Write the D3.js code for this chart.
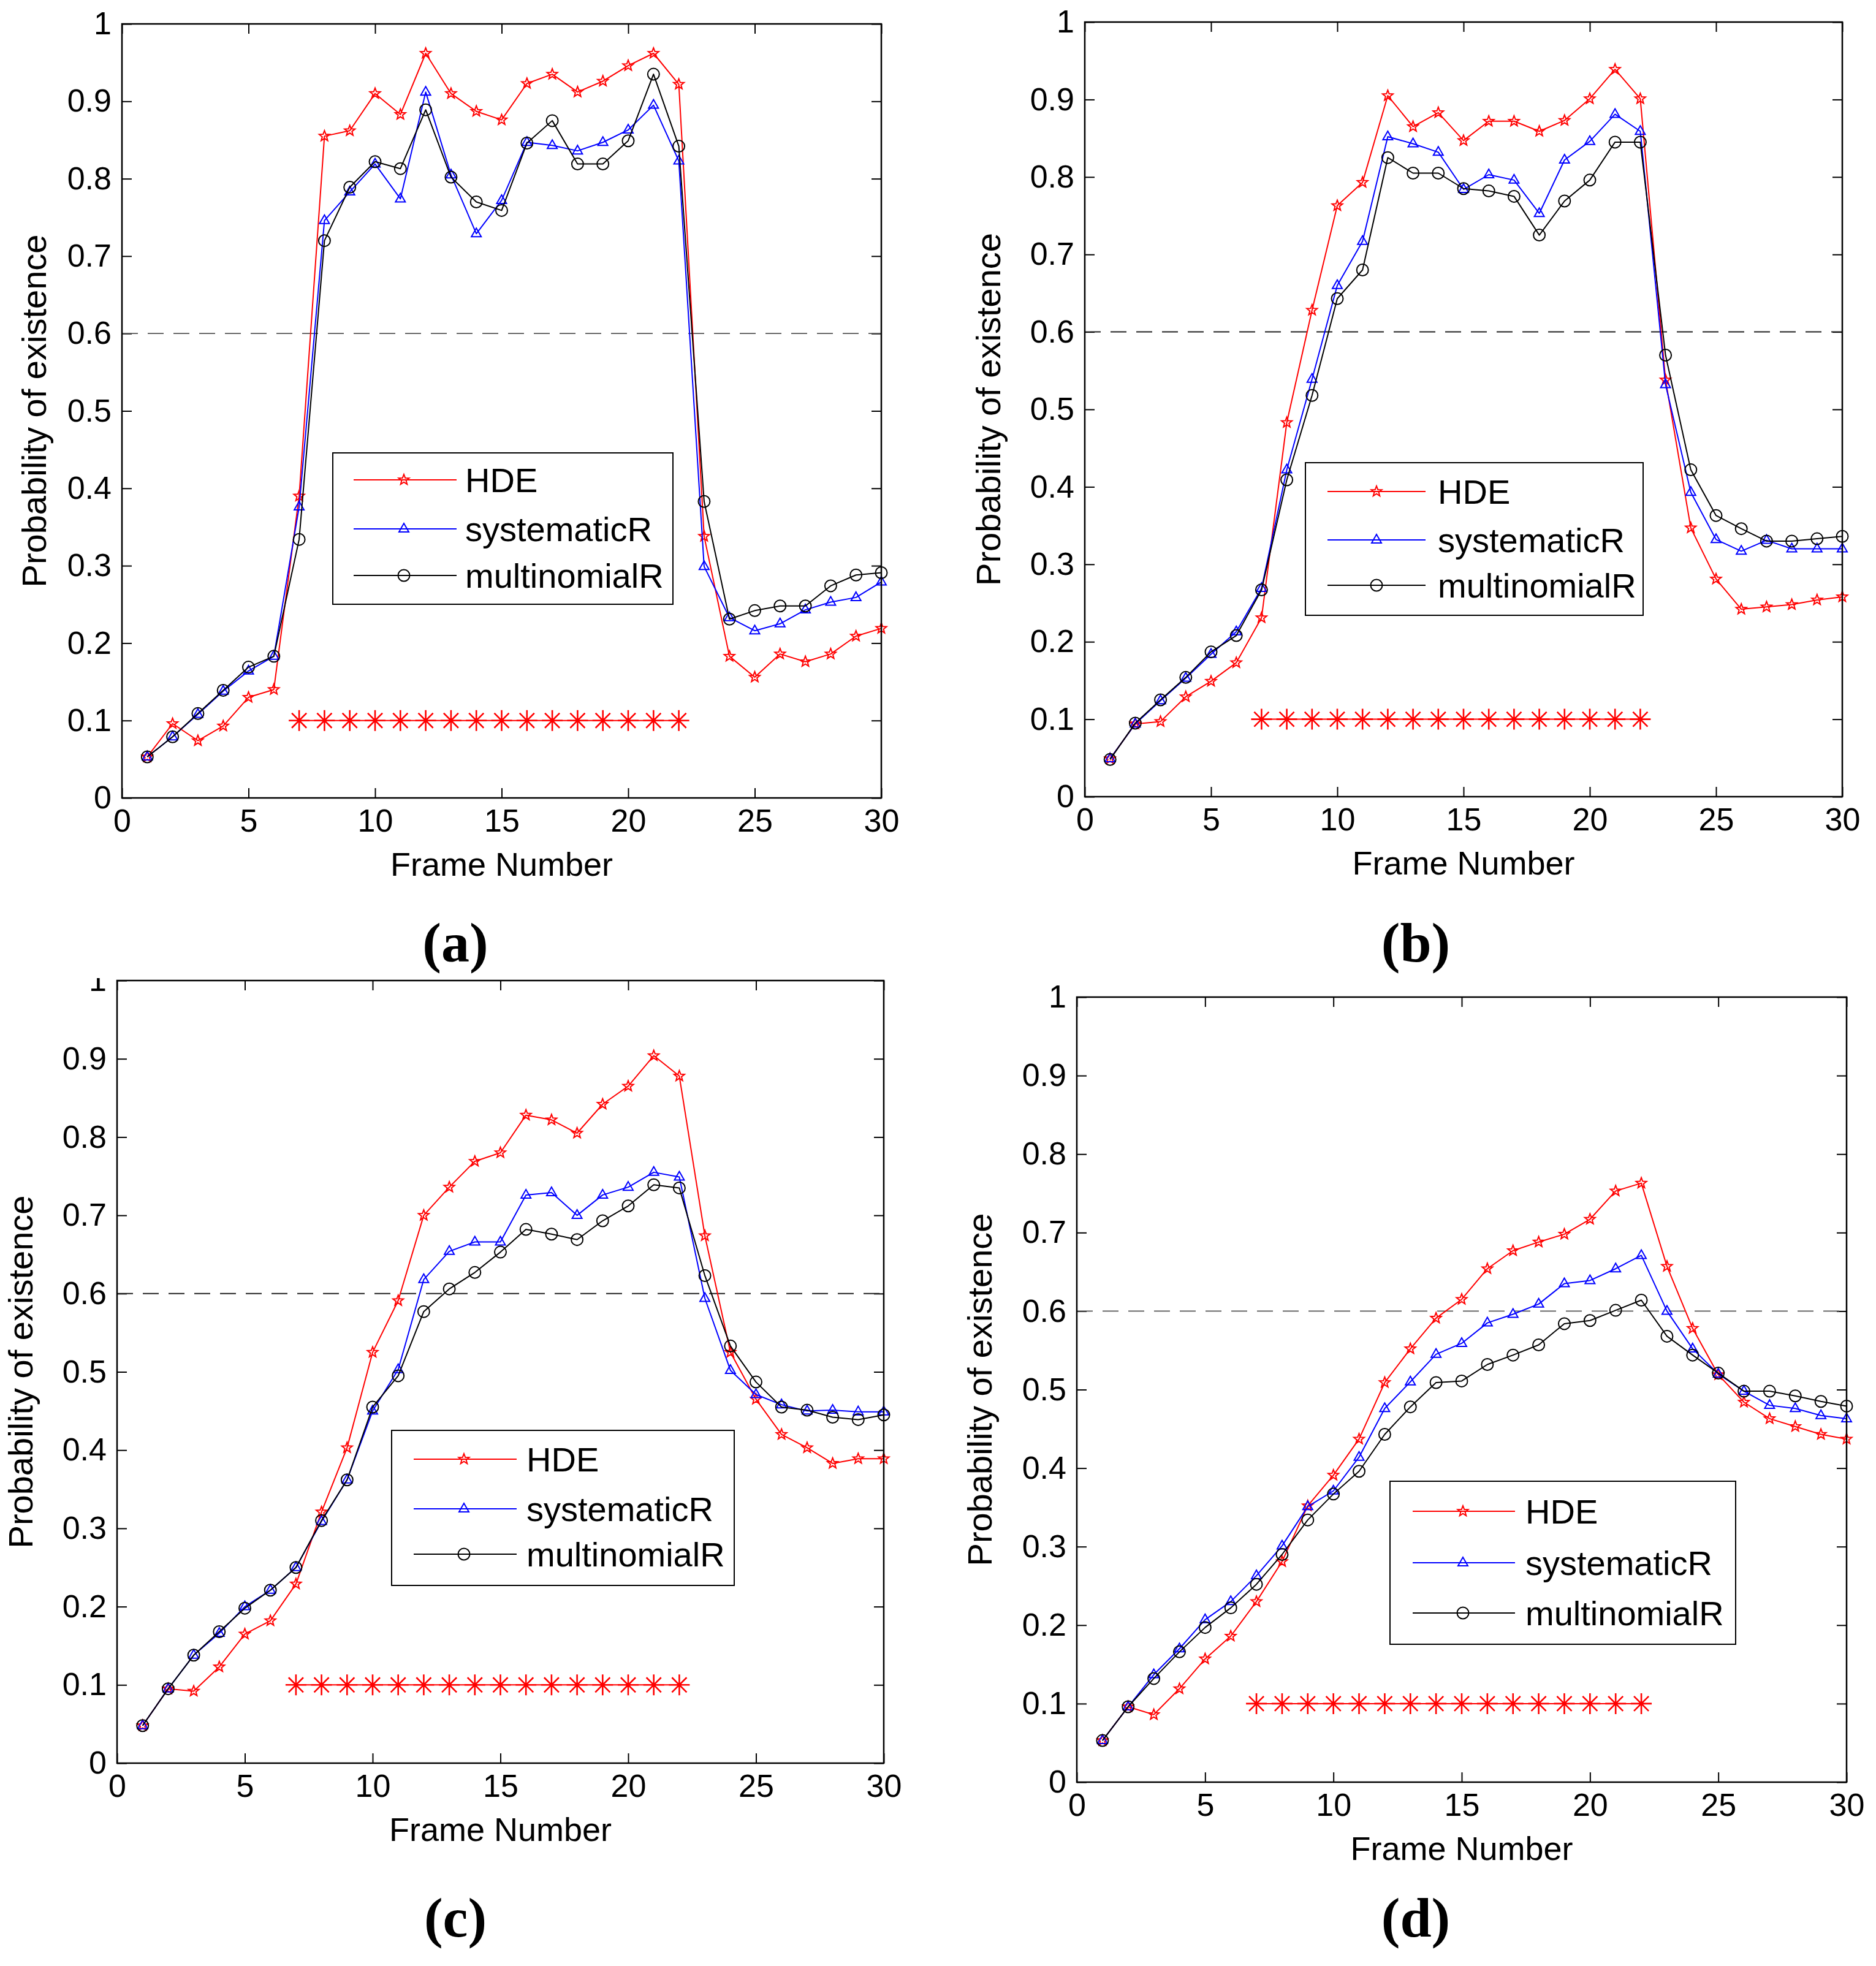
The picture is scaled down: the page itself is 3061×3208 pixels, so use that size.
<!DOCTYPE html>
<html><head><meta charset="utf-8">
<script src="https://cdn.jsdelivr.net/npm/d3@7"></script>
<style>body{margin:0;background:#fff}</style>
</head><body>
<svg id="chart" width="3061" height="3208" xmlns="http://www.w3.org/2000/svg"></svg>
<script>
// ---------------- data ----------------
const frames = [1,2,3,4,5,6,7,8,9,10,11,12,13,14,15,16,17,18,19,20,21,22,23,24,25,26,27,28,29,30];

const hdeA = [0.053,0.096,0.074,0.093,0.130,0.140,0.390,0.855,0.862,0.910,0.883,0.962,0.910,0.887,0.876,0.923,0.935,0.912,0.926,0.946,0.962,0.922,0.338,0.183,0.156,0.186,0.176,0.186,0.209,0.219];
const sysA = [0.053,0.079,0.108,0.138,0.164,0.183,0.376,0.746,0.783,0.819,0.774,0.912,0.805,0.729,0.772,0.847,0.843,0.836,0.847,0.863,0.895,0.823,0.299,0.233,0.216,0.225,0.243,0.253,0.259,0.279];
const mulA = [0.053,0.079,0.109,0.139,0.169,0.183,0.334,0.720,0.789,0.822,0.813,0.889,0.802,0.770,0.759,0.846,0.875,0.819,0.819,0.849,0.935,0.842,0.383,0.231,0.242,0.248,0.248,0.274,0.288,0.291];

const hdeB = [0.049,0.094,0.097,0.129,0.149,0.173,0.231,0.483,0.628,0.763,0.793,0.905,0.865,0.883,0.847,0.872,0.872,0.859,0.873,0.901,0.939,0.901,0.538,0.347,0.281,0.242,0.245,0.248,0.254,0.258];
const sysB = [0.049,0.094,0.124,0.153,0.184,0.213,0.269,0.422,0.539,0.660,0.717,0.852,0.843,0.832,0.784,0.803,0.796,0.753,0.822,0.846,0.881,0.859,0.532,0.393,0.332,0.317,0.331,0.320,0.320,0.320];
const mulB = [0.048,0.095,0.125,0.154,0.187,0.208,0.267,0.409,0.518,0.643,0.680,0.825,0.805,0.805,0.785,0.782,0.775,0.725,0.769,0.796,0.845,0.845,0.570,0.422,0.363,0.346,0.330,0.330,0.333,0.336];

const hdeC = [0.048,0.095,0.092,0.123,0.165,0.182,0.229,0.321,0.403,0.525,0.591,0.700,0.736,0.769,0.780,0.828,0.822,0.805,0.842,0.865,0.904,0.878,0.674,0.525,0.465,0.420,0.403,0.383,0.389,0.389];
const sysC = [0.048,0.095,0.138,0.166,0.200,0.221,0.250,0.309,0.362,0.450,0.503,0.618,0.654,0.666,0.666,0.726,0.729,0.700,0.726,0.736,0.755,0.749,0.594,0.502,0.471,0.458,0.450,0.451,0.449,0.449];
const mulC = [0.048,0.095,0.138,0.168,0.198,0.221,0.250,0.310,0.362,0.455,0.495,0.577,0.606,0.627,0.653,0.682,0.676,0.669,0.693,0.712,0.739,0.735,0.623,0.533,0.487,0.455,0.451,0.442,0.439,0.445];

const hdeD = [0.053,0.096,0.086,0.119,0.157,0.186,0.230,0.281,0.352,0.391,0.437,0.509,0.552,0.591,0.615,0.654,0.677,0.688,0.698,0.717,0.753,0.763,0.657,0.578,0.519,0.484,0.463,0.453,0.443,0.437];
const sysD = [0.053,0.096,0.137,0.170,0.207,0.230,0.263,0.301,0.351,0.371,0.414,0.476,0.510,0.545,0.559,0.585,0.596,0.609,0.635,0.639,0.654,0.671,0.600,0.552,0.520,0.498,0.480,0.476,0.467,0.463];
const mulD = [0.053,0.096,0.132,0.166,0.197,0.222,0.252,0.290,0.334,0.367,0.396,0.443,0.478,0.509,0.511,0.532,0.544,0.557,0.584,0.588,0.601,0.614,0.568,0.544,0.521,0.498,0.498,0.492,0.485,0.479];

const truthFrames = [7,8,9,10,11,12,13,14,15,16,17,18,19,20,21,22];
const truthLevel = 0.1;
const threshold = 0.6;

const xTicks = [0,5,10,15,20,25,30];
const yTicks = [0,0.1,0.2,0.3,0.4,0.5,0.6,0.7,0.8,0.9,1];
const yTickLabels = ["0","0.1","0.2","0.3","0.4","0.5","0.6","0.7","0.8","0.9","1"];
const seriesNames = ["HDE","systematicR","multinomialR"];
const seriesColors = ["#ff0000","#0000ff","#000000"];
const panelLabels = ["(a)","(b)","(c)","(d)"];
const xLabel = "Frame Number";
const yLabel = "Probability of existence";

// ---------------- layout ----------------
const panels = [
  {L:199,R:1438,T:39,B:1302, series:[hdeA,sysA,mulA], ylabX:55, lab:{x:743,y:1540},
   leg:{x:543,y:739,w:555,h:247,l0:577,l1:745,mx:659,tx:759,rows:[783,863,939]}, dashC:"#555", dashW:1.8},
  {L:1770,R:3006,T:36,B:1300, series:[hdeB,sysB,mulB], ylabX:1612, lab:{x:2310,y:1540},
   leg:{x:2130,y:755,w:551,h:249,l0:2166,l1:2326,mx:2246,tx:2346,rows:[802,881,955]}, dashC:"#222", dashW:2},
  {L:191,R:1442,T:1600,B:2877, series:[hdeC,sysC,mulC], ylabX:33, lab:{x:743,y:3131},
   leg:{x:639,y:2334,w:559,h:253,l0:675,l1:843,mx:757,tx:859,rows:[2381,2462,2536]}, dashC:"#222", dashW:2, clipTop:true},
  {L:1757,R:3013,T:1627,B:2908, series:[hdeD,sysD,mulD], ylabX:1598, lab:{x:2310,y:3131},
   leg:{x:2268,y:2417,w:564,h:266,l0:2305,l1:2472,mx:2387,tx:2489,rows:[2466,2550,2632]}, dashC:"#555", dashW:1.8}
];

const FONT = "'Liberation Sans', Arial, Helvetica, sans-serif";
const svg = d3.select("#chart");
svg.append("rect").attr("width",3061).attr("height",3208).attr("fill","#fff");

// marker drawers
function starPath(r){ // pentagram outline
  const pts=[];
  for(let i=0;i<10;i++){
    const ang = -Math.PI/2 + i*Math.PI/5;
    const rr = i%2===0 ? r : r*0.42;
    pts.push([rr*Math.cos(ang), rr*Math.sin(ang)]);
  }
  return "M"+pts.map(p=>p[0].toFixed(2)+","+p[1].toFixed(2)).join("L")+"Z";
}
const markerPaths = [
  starPath(9),
  "M0,-9L8,5L-8,5Z",
  d3.arc()({innerRadius:0,outerRadius:9.5,startAngle:0,endAngle:2*Math.PI})
];
function asteriskPath(r){
  const d=r*Math.SQRT1_2;
  return `M${-r},0L${r},0M0,${-r}L0,${r}M${-d},${-d}L${d},${d}M${-d},${d}L${d},${-d}`;
}

panels.forEach((p,pi)=>{
  const g = svg.append("g");
  const x = d3.scaleLinear().domain([0,30]).range([p.L,p.R]);
  const y = d3.scaleLinear().domain([0,1]).range([p.B,p.T]);

  // axes (ticks inward on all four sides)
  const ax = [
    d3.axisBottom(x).tickValues(xTicks).tickFormat(d3.format("d")).tickSizeInner(-16).tickSizeOuter(0).tickPadding(18),
    d3.axisTop(x).tickValues(xTicks).tickFormat("").tickSizeInner(-16).tickSizeOuter(0),
    d3.axisLeft(y).tickValues(yTicks).tickFormat((d,i)=>yTickLabels[i]).tickSizeInner(-16).tickSizeOuter(0).tickPadding(17),
    d3.axisRight(y).tickValues(yTicks).tickFormat("").tickSizeInner(-16).tickSizeOuter(0)
  ];
  const trans = [`translate(0,${p.B})`,`translate(0,${p.T})`,`translate(${p.L},0)`,`translate(${p.R},0)`];
  ax.forEach((a,i)=>{
    const ag = g.append("g").attr("transform",trans[i]).call(a);
    ag.select(".domain").remove();
    ag.selectAll(".tick line").attr("stroke","#000").attr("stroke-width",2);
    ag.selectAll(".tick text").attr("font-family",FONT).attr("font-size",52).attr("fill","#000");
  });

  // threshold dashed line
  g.append("line").attr("x1",p.L).attr("x2",p.R).attr("y1",y(threshold)).attr("y2",y(threshold))
    .attr("stroke",p.dashC).attr("stroke-width",p.dashW).attr("stroke-dasharray","26,16");

  // series
  const line = d3.line().x((d,i)=>x(frames[i])).y(d=>y(d));
  p.series.forEach((vals,si)=>{
    g.append("path").datum(vals).attr("d",line).attr("fill","none")
      .attr("stroke",seriesColors[si]).attr("stroke-width",2).attr("stroke-linejoin","round");
    g.selectAll(null).data(vals).enter().append("path")
      .attr("transform",(d,i)=>`translate(${x(frames[i])},${y(d)})`)
      .attr("d",markerPaths[si]).attr("fill","none").attr("stroke",seriesColors[si]).attr("stroke-width",2);
  });

  // true-existence asterisks
  const tLine = d3.line().x(d=>x(d)).y(()=>y(truthLevel));
  g.append("path").datum(truthFrames).attr("d",tLine).attr("fill","none").attr("stroke","#ff0000").attr("stroke-width",2);
  g.selectAll(null).data(truthFrames).enter().append("path")
    .attr("transform",d=>`translate(${x(d)},${y(truthLevel)})`)
    .attr("d",asteriskPath(17)).attr("fill","none").attr("stroke","#ff0000").attr("stroke-width",2.6);

  // box
  g.append("rect").attr("x",p.L).attr("y",p.T).attr("width",p.R-p.L).attr("height",p.B-p.T)
    .attr("fill","none").attr("stroke","#000").attr("stroke-width",2.5);

  // legend
  const lg = g.append("g");
  lg.append("rect").attr("x",p.leg.x).attr("y",p.leg.y).attr("width",p.leg.w).attr("height",p.leg.h)
    .attr("fill","#fff").attr("stroke","#000").attr("stroke-width",2);
  seriesNames.forEach((name,si)=>{
    const ry = p.leg.rows[si];
    lg.append("line").attr("x1",p.leg.l0).attr("x2",p.leg.l1).attr("y1",ry).attr("y2",ry)
      .attr("stroke",seriesColors[si]).attr("stroke-width",2);
    lg.append("path").attr("transform",`translate(${p.leg.mx},${ry})`).attr("d",markerPaths[si])
      .attr("fill","none").attr("stroke",seriesColors[si]).attr("stroke-width",2);
    lg.append("text").attr("x",p.leg.tx).attr("y",ry).attr("dy","0.36em")
      .attr("font-family",FONT).attr("font-size",56).attr("fill","#000").text(name);
  });

  // axis labels
  g.append("text").attr("x",(p.L+p.R)/2).attr("y",p.B+108).attr("dy","0.36em").attr("text-anchor","middle")
    .attr("font-family",FONT).attr("font-size",54).attr("fill","#000").text(xLabel);
  g.append("text").attr("transform",`translate(${p.ylabX},${(p.T+p.B)/2}) rotate(-90)`).attr("dy","0.36em")
    .attr("text-anchor","middle").attr("font-family",FONT).attr("font-size",56).attr("fill","#000").text(yLabel);

  // panel label
  svg.append("text").attr("x",p.lab.x).attr("y",p.lab.y).attr("dy","0.32em").attr("text-anchor","middle")
    .attr("font-family","'Liberation Serif','Times New Roman',serif").attr("font-weight","bold")
    .attr("font-size",92).attr("fill","#000").text(panelLabels[pi]);

  // the top of panel (c)'s "1" label is cut off in the original figure
  if(p.clipTop){
    svg.append("rect").attr("x",p.L-70).attr("y",p.T-40).attr("width",60).attr("height",36).attr("fill","#fff");
  }
});
</script>
</body></html>
